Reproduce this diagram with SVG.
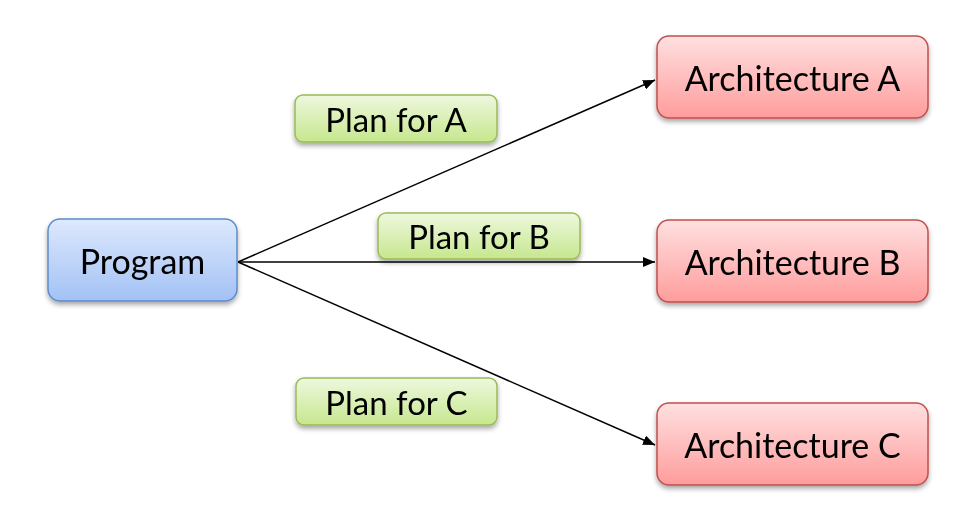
<svg xmlns="http://www.w3.org/2000/svg" width="959" height="522" viewBox="0 0 959 522">
<defs>
<linearGradient id="gBlue" x1="0" y1="0" x2="0" y2="1">
<stop offset="0" stop-color="#dde9fd"/><stop offset="1" stop-color="#a3c1f5"/>
</linearGradient>
<linearGradient id="gRed" x1="0" y1="0" x2="0" y2="1">
<stop offset="0" stop-color="#ffe0e0"/><stop offset="1" stop-color="#ff9c9c"/>
</linearGradient>
<linearGradient id="gGreen" x1="0" y1="0" x2="0" y2="1">
<stop offset="0" stop-color="#eef8de"/><stop offset="1" stop-color="#c6e78e"/>
</linearGradient>
<filter id="sh" x="-10%" y="-20%" width="120%" height="150%">
<feGaussianBlur in="SourceAlpha" stdDeviation="2.5"/>
<feOffset dx="0" dy="3" result="b"/>
<feComponentTransfer><feFuncA type="linear" slope="0.35"/></feComponentTransfer>
<feMerge><feMergeNode/><feMergeNode in="SourceGraphic"/></feMerge>
</filter>
<marker id="arr" viewBox="0 0 12 10" refX="12" refY="5" markerWidth="12" markerHeight="10" markerUnits="userSpaceOnUse" orient="auto">
<path d="M0,0 L12,5 L0,10 z" fill="#000"/>
</marker>
</defs>
<style>
.blue{fill:url(#gBlue);stroke:#5c8ccb;stroke-width:1.5}
.red{fill:url(#gRed);stroke:#c0504d;stroke-width:1.5}
.green{fill:url(#gGreen);stroke:#9bbb59;stroke-width:1.5}
text{font-family:"Lato","Open Sans","Liberation Sans",sans-serif;fill:#000;text-anchor:middle;dominant-baseline:central}
.big{font-size:34px}
.mid{font-size:33px}
.edge{stroke:#000;stroke-width:1.5;fill:none;marker-end:url(#arr)}
</style>
<g id="connectors">
<line class="edge" x1="238" y1="262" x2="655" y2="80"/>
<line class="edge" x1="238" y1="262" x2="655" y2="262"/>
<line class="edge" x1="238" y1="262" x2="655" y2="445"/>
</g>
<g id="program" filter="url(#sh)">
<rect class="blue" x="48" y="219" width="189" height="82" rx="12"/>
<text class="big" x="142.5" y="260">Program</text>
</g>
<g id="archA" filter="url(#sh)">
<rect class="red" x="657" y="36" width="271" height="82" rx="12"/>
<text class="big" x="792.5" y="77">Architecture A</text>
</g>
<g id="archB" filter="url(#sh)">
<rect class="red" x="657" y="220" width="271" height="82" rx="12"/>
<text class="big" x="792.5" y="261">Architecture B</text>
</g>
<g id="archC" filter="url(#sh)">
<rect class="red" x="657" y="403" width="271" height="82" rx="12"/>
<text class="big" x="792.5" y="444">Architecture C</text>
</g>
<g id="planA" filter="url(#sh)">
<rect class="green" x="295" y="95" width="202" height="47" rx="8"/>
<text class="mid" x="396" y="118.5">Plan for A</text>
</g>
<g id="planB" filter="url(#sh)">
<rect class="green" x="378" y="213" width="202" height="46" rx="8"/>
<text class="mid" x="479" y="236">Plan for B</text>
</g>
<g id="planC" filter="url(#sh)">
<rect class="green" x="296" y="378" width="201" height="47" rx="8"/>
<text class="mid" x="396.5" y="401.5">Plan for C</text>
</g>
</svg>
